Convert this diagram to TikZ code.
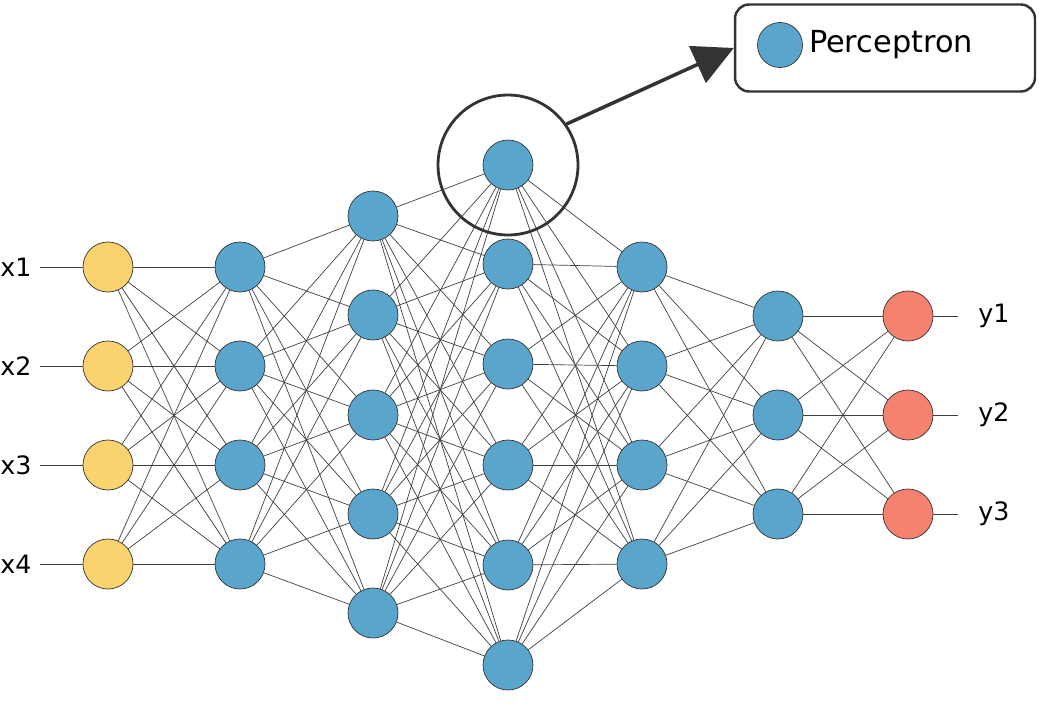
\documentclass[tikz,border=0pt]{standalone}
\usepackage{fontspec}
\setmainfont{DejaVu Sans}
\usetikzlibrary{arrows.meta}
\definecolor{cyellow}{RGB}{250, 210, 110}
\definecolor{cblue}{RGB}{90, 165, 204}
\definecolor{cred}{RGB}{244, 130, 110}

\tikzset{
	neuron/.style={circle,draw=black!80,thin,minimum size=1cm,inner sep=0pt},
	link/.style={black!75,line width=0.4pt}
}

\begin{document}
\begin{tikzpicture}[x=0.02cm,y=-0.02cm]
\useasboundingbox (0,0) rectangle (1043,706);

% layers: name/x/positions/colour
\foreach \l/\x/\ys/\c in {
	a/108/{267,366,465,564}/cyellow,
	b/240/{267,366,465,564}/cblue,
	c/373/{216,315,415,514,613}/cblue,
	d/508/{165,264,364,465,565,665}/cblue,
	e/642/{267,366,465,564}/cblue,
	f/778/{316,415,514}/cblue,
	g/908/{316,415,514}/cred}{
	\foreach \y [count=\i] in \ys {
		\node[neuron,fill=\c] (\l\i) at (\x,\y) {};
	}
}

% connections
\foreach \p/\np/\q/\nq in {a/4/b/4, b/4/c/5, c/5/d/6, d/6/e/4, e/4/f/3, f/3/g/3}{
	\foreach \i in {1,...,\np}{
		\foreach \j in {1,...,\nq}{
			\draw[link] (\p\i) -- (\q\j);
		}
	}
}

% inputs and outputs
\foreach \i in {1,...,4}{
	\node[anchor=west,inner sep=0pt] (x\i) at (0,{267+99*(\i-1)}) {\Large x\i};
	\path (x\i.east) ++(8,0) coordinate (xs\i);
	\draw[link] (xs\i) -- (a\i);
}
\foreach \i in {1,...,3}{
	\node[anchor=west,inner sep=0pt] (y\i) at (978,{316+99*(\i-1)}) {\Large y\i};
	\coordinate (ye\i) at (958,{316+99*(\i-1)});
	\draw[link] (g\i) -- (ye\i);
}

% highlight and legend
\node[circle,draw=black!80,line width=1.6pt,minimum size=2.8cm] (hl) at (508,165) {};
\node[draw=black!80,line width=1.4pt,rounded corners=8pt,minimum width=6cm,minimum height=1.74cm] (legend) at (885,48) {};
\node[neuron,fill=cblue,minimum size=0.9cm] (lg) at (780,45) {};
\node[anchor=west] (lt) at (lg.east) {\LARGE Perceptron};
\draw[line width=2pt,black!80,-{Triangle[length=0.8cm,width=0.8cm]}] (hl.35) -- (legend.west);

\end{tikzpicture}
\end{document}
